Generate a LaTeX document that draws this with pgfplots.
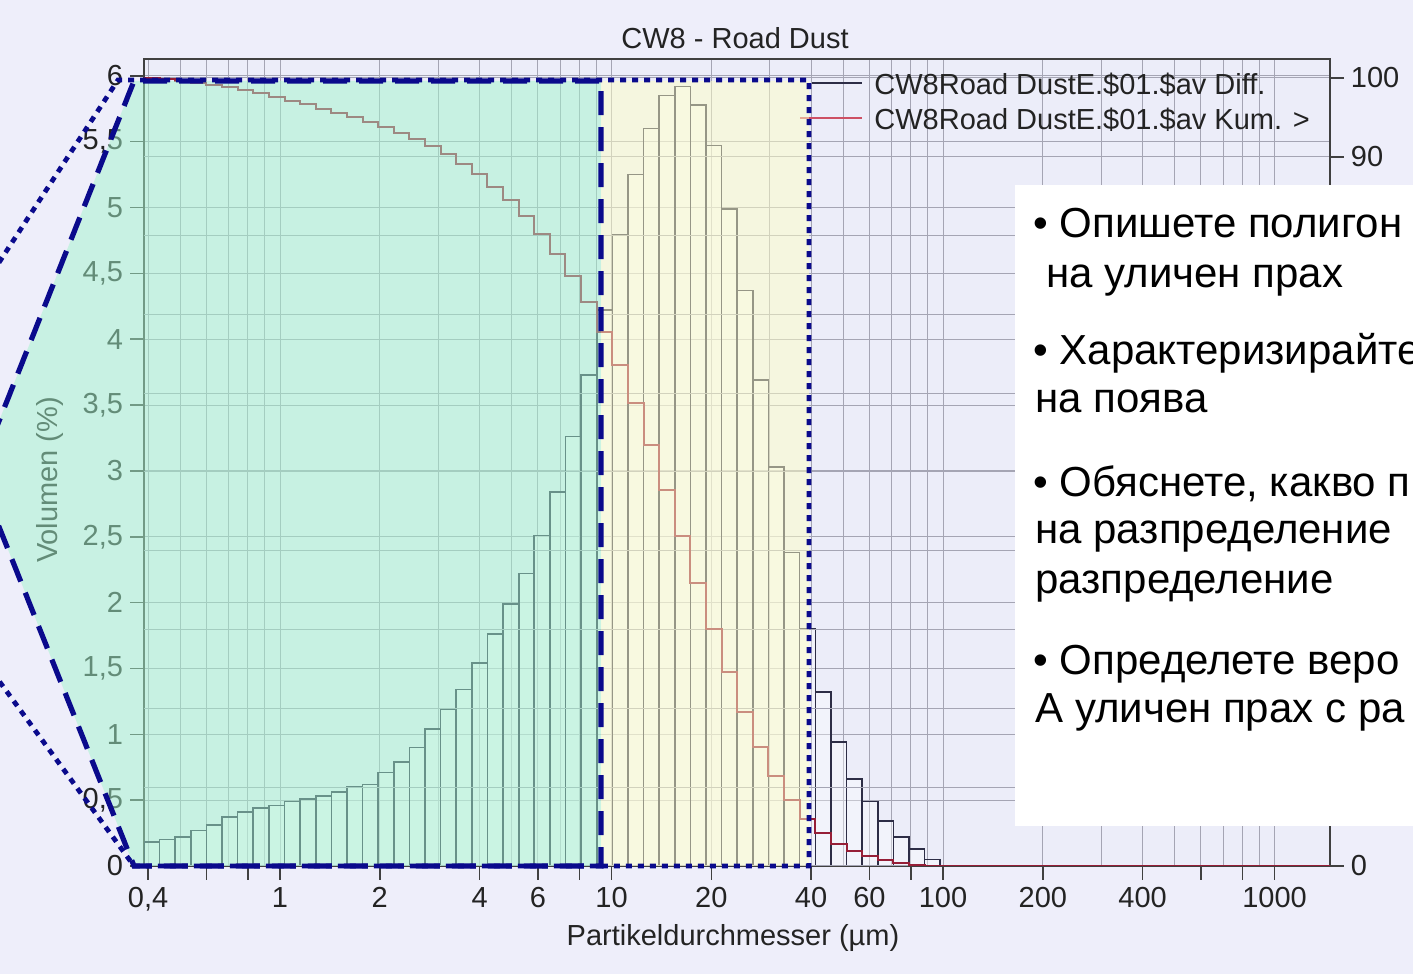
\documentclass[border=0pt]{standalone}
\usepackage{pgfplots}
\usepackage{pgfplotstable}
\pgfplotsset{compat=1.18}
\usepackage{fontspec}
\setmainfont{Liberation Sans}

\definecolor{bgl}{RGB}{238,238,250}
\definecolor{plotbg}{RGB}{236,237,249}
\definecolor{gridc}{RGB}{165,165,180}
\definecolor{barline}{RGB}{45,45,70}
\definecolor{cumc}{RGB}{150,30,55}
\definecolor{navy}{RGB}{10,10,140}
\definecolor{mint}{RGB}{164,245,205}
\definecolor{cream}{RGB}{255,255,199}
\definecolor{txt}{RGB}{35,35,35}
\definecolor{legred}{RGB}{205,80,100}

% bin lower edge (um) and volume (%) per class
\pgfplotstableread{
x y
0.3888 0.18
0.4334 0.20
0.4830 0.22
0.5383 0.27
0.5999 0.31
0.6687 0.37
0.7452 0.41
0.8305 0.44
0.9256 0.46
1.0316 0.49
1.1497 0.51
1.2813 0.53
1.4281 0.56
1.5916 0.60
1.7742 0.62
1.9777 0.71
2.2036 0.79
2.4558 0.90
2.7371 1.04
3.0510 1.19
3.4004 1.34
3.7894 1.54
4.2228 1.76
4.7076 1.99
5.2481 2.22
5.8479 2.51
6.5180 2.84
7.2645 3.26
8.0964 3.73
9.0250 4.22
10.055 4.79
11.206 5.25
12.490 5.60
13.923 5.85
15.516 5.92
17.294 5.78
19.275 5.47
21.483 4.99
23.944 4.37
26.686 3.69
29.744 3.03
33.153 2.38
36.95 1.80
41.19 1.32
45.90 0.94
51.16 0.66
57.02 0.49
63.56 0.34
70.83 0.22
78.95 0.13
88.00 0.05
98.01 0
}\diffdata

% cumulative oversize (%) at each class edge
\pgfplotstableread{
x q
0.3888 100.00
0.4334 99.82
0.4830 99.62
0.5383 99.40
0.5999 99.12
0.6687 98.81
0.7452 98.44
0.8305 98.03
0.9256 97.58
1.0316 97.12
1.1497 96.63
1.2813 96.11
1.4281 95.58
1.5916 95.01
1.7742 94.41
1.9777 93.79
2.2036 93.07
2.4558 92.27
2.7371 91.37
3.0510 90.32
3.4004 89.12
3.7894 87.77
4.2228 86.22
4.7076 84.45
5.2481 82.44
5.8479 80.21
6.5180 77.68
7.2645 74.82
8.0964 71.54
9.0250 67.78
10.055 63.53
11.206 58.70
12.490 53.41
13.923 47.77
15.516 41.88
17.294 35.92
19.275 30.10
21.483 24.59
23.944 19.56
26.686 15.16
29.744 11.44
33.153 8.39
36.95 5.99
41.19 4.18
45.90 2.85
51.16 1.90
57.02 1.24
63.56 0.75
70.83 0.40
78.95 0.18
88.00 0.05
98.01 0
1470 0
}\cumdata

\begin{document}
\begin{tikzpicture}
\fill[bgl] (0,0) rectangle (706.5pt,487pt);
\begin{axis}[
  xmode=log, xmin=0.3888, xmax=1470,
  scale only axis, width=593pt, height=403.5pt,
  at={(72pt,54pt)}, anchor=south west,
  tick align=outside, major tick length=7pt, minor tick length=0pt,
  ticklabel style={font=\fontsize{14.5}{17}\selectfont, text=txt},
  axis line style={draw=black!75, line width=1pt},
  major tick style={draw=black!75, line width=0.8pt},
  grid style={draw=gridc, line width=0.5pt},
  minor grid style={draw=gridc, line width=0.5pt},
  axis background/.style={fill=plotbg},
  ymin=0, ymax=6.128,
  xtick={0.4,0.6,0.8,1,2,4,6,8,10,20,40,60,80,100,200,400,600,800,1000},
  xticklabels={{0,4},,,1,2,4,6,,10,20,40,60,,100,200,400,,,1000},
  minor xtick={0.5,0.7,0.9,3,5,7,9,30,50,70,90,300,500,700,900},
  ytick={0,0.5,1,1.5,2,2.5,3,3.5,4,4.5,5,5.5,6},
  yticklabels={0,{0,5},1,{1,5},2,{2,5},3,{3,5},4,{4,5},5,{5,5},6},
  xtick pos=left, ytick pos=left,
  xmajorgrids, xminorgrids, ymajorgrids,
]
\addplot[ybar interval, draw=barline, fill=white, fill opacity=0.35, line width=0.8pt] table[x=x,y=y] {\diffdata};
\end{axis}
\begin{axis}[
  xmode=log, xmin=0.3888, xmax=1470,
  scale only axis, width=593pt, height=403.5pt,
  at={(72pt,54pt)}, anchor=south west,
  tick align=outside, major tick length=7pt, minor tick length=0pt,
  ticklabel style={font=\fontsize{14.5}{17}\selectfont, text=txt},
  axis line style={draw=black!75, line width=1pt},
  major tick style={draw=black!75, line width=0.8pt},
  grid style={draw=gridc, line width=0.5pt},
  ymin=0, ymax=102.4,
  axis x line=none, axis y line*=right,
  ytick={0,10,20,30,40,50,60,70,80,90,100},
  yticklabels={0,,,,,,,,,90,100},
  ymajorgrids,
]
\addplot[const plot, draw=cumc, line width=1pt] table[x=x,y=q] {\cumdata};
\end{axis}
\begin{scope}[x=0.5pt,y=-0.5pt,yshift=487pt]
  % title, legend, axis labels
  \node[font=\fontsize{14.5}{17}\selectfont, text=txt] at (735,38) {CW8 - Road Dust};
  \draw[barline, line width=1pt] (812,83) -- (862,83);
  \node[anchor=west, font=\fontsize{14.5}{17}\selectfont, text=txt, inner sep=0pt] at (874,85) {CW8Road DustE.\$01.\$av Diff.};
  \draw[legred, line width=1.3pt] (800,118) -- (862,118);
  \node[anchor=west, font=\fontsize{14.5}{17}\selectfont, text=txt, inner sep=0pt] at (874,120) {CW8Road DustE.\$01.\$av Kum. >};
  \node[font=\fontsize{14.5}{17}\selectfont, text=txt] at (733,938) {Partikeldurchmesser (µm)};
  \node[font=\fontsize{14.5}{17}\selectfont, text=txt, rotate=90] at (50,480) {Volumen (\%)};
  % highlight overlays
  \fill[mint, opacity=0.5] (-22,474) -- (134,81) -- (601,81) -- (601,866) -- (134,866) -- cycle;
  \fill[cream, opacity=0.5] (601,81) rectangle (809,866);
  % dotted callout
  \draw[navy, line width=2.4pt, dash pattern=on 3pt off 3pt] (-60,353) -- (118,80) -- (809,80) -- (809,866) -- (134,866) -- (-60,600);
  % dashed callout
  \draw[navy, line width=2.6pt, dash pattern=on 12pt off 6pt] (-22,474) -- (134,81) -- (601,81) -- (601,866) -- (134,866) -- cycle;
  % text box
  \fill[white] (1015,185) rectangle (1440,826);
  \begin{scope}[every node/.style={anchor=base west, inner sep=0pt, font=\fontsize{21}{25}\selectfont}]
    \node at (1033,238) {• Опишете полигон};
    \node at (1046,288) {на уличен прах};
    \node at (1033,365) {• Характеризирайте};
    \node at (1035,413) {на поява};
    \node at (1033,497) {• Обяснете, какво п};
    \node at (1035,544) {на разпределение};
    \node at (1035,594) {разпределение};
    \node at (1033,675) {• Определете веро};
    \node at (1035,723) {А уличен прах с ра};
  \end{scope}
\end{scope}
\pgfresetboundingbox
\useasboundingbox (0,0) rectangle (706.5pt,487pt);
\end{tikzpicture}
\end{document}
